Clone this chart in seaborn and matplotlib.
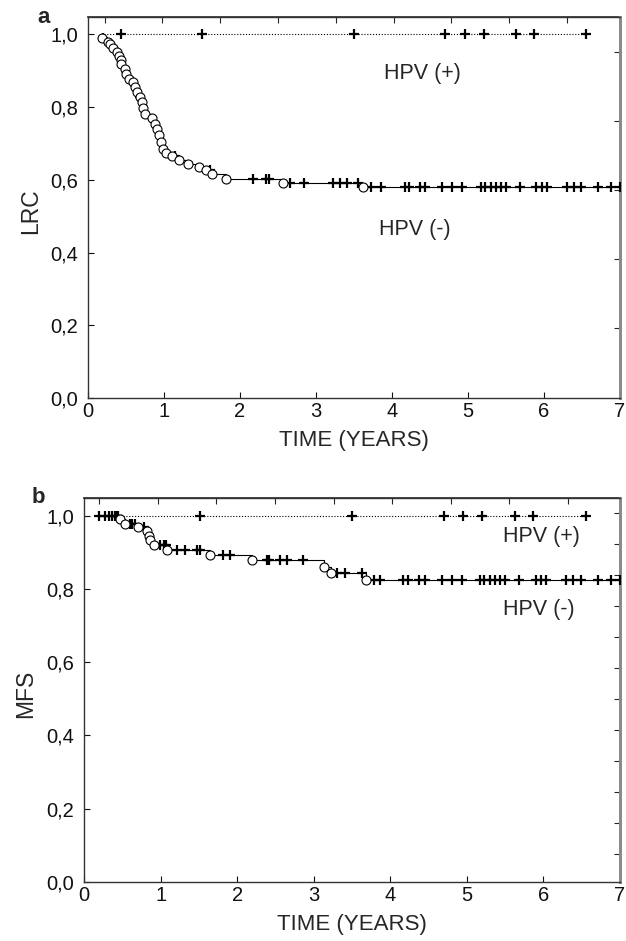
import numpy as np
import pandas as pd
import seaborn as sns
import matplotlib.pyplot as plt

sns.set_theme(style="ticks")
plt.rcParams['font.family'] = ['Liberation Sans', 'DejaVu Sans']

############################ DATA ############################
# panel a, LRC, HPV(-): events (open circles) and censored times (+)
lrc_ev_t = [0.18, 0.26, 0.29, 0.33, 0.38, 0.41, 0.43, 0.44, 0.49, 0.50, 0.54, 0.59,
            0.62, 0.65, 0.68, 0.71, 0.73, 0.75, 0.84, 0.88, 0.91, 0.94, 0.96, 0.99,
            1.03, 1.10, 1.20, 1.31, 1.46, 1.55, 1.63, 1.82, 2.57, 3.62]
lrc_ev_s = [0.990, 0.979, 0.973, 0.963, 0.951, 0.940, 0.929, 0.918, 0.906, 0.892,
            0.878, 0.869, 0.855, 0.842, 0.828, 0.814, 0.799, 0.780, 0.770, 0.755,
            0.741, 0.723, 0.704, 0.686, 0.674, 0.665, 0.656, 0.645, 0.636, 0.626,
            0.615, 0.603, 0.592, 0.580]
lrc_cens_t = [0.20, 0.68, 1.14, 1.60, 2.17, 2.34, 2.38, 2.66, 2.84, 3.22, 3.31, 3.41,
              3.55, 3.72, 3.85, 4.17, 4.23, 4.37, 4.43, 4.66, 4.79, 4.92, 5.17, 5.23,
              5.30, 5.37, 5.43, 5.50, 5.68, 5.90, 5.97, 6.04, 6.30, 6.39, 6.49, 6.71,
              6.88, 7.00]
lrc_pos_cens_t = [0.43, 1.50, 3.50, 4.70, 4.96, 5.21, 5.63, 5.87, 6.55]

# panel b, MFS, HPV(-)
mfs_ev_t = [0.47, 0.535, 0.71, 0.82, 0.85, 0.86, 0.92, 1.09, 1.64, 2.19, 3.14, 3.23, 3.68]
mfs_ev_s = [0.990, 0.978, 0.969, 0.957, 0.945, 0.934, 0.921, 0.907, 0.892, 0.878,
            0.860, 0.842, 0.825]
mfs_cens_t = [0.20, 0.28, 0.32, 0.37, 0.41, 0.45, 0.60, 0.63, 0.66, 0.78, 0.99, 1.04,
              1.07, 1.21, 1.32, 1.47, 1.51, 1.82, 1.91, 2.39, 2.42, 2.56, 2.65, 2.86,
              3.30, 3.41, 3.63, 3.79, 3.87, 4.16, 4.23, 4.38, 4.45, 4.67, 4.80, 4.94,
              5.17, 5.23, 5.30, 5.37, 5.43, 5.50, 5.68, 5.90, 5.97, 6.04, 6.30, 6.39,
              6.49, 6.71, 6.88, 7.00]
mfs_pos_cens_t = [0.43, 1.51, 3.50, 4.70, 4.95, 5.20, 5.63, 5.87, 6.56]

y_ticks = [0.0, 0.2, 0.4, 0.6, 0.8, 1.0]
y_labels = ["0,0", "0,2", "0,4", "0,6", "0,8", "1,0"]
x_ticks = [0, 1, 2, 3, 4, 5, 6, 7]


def km_frame(start, ev_t, ev_s, end):
    return pd.DataFrame({"time": [start] + ev_t + [end],
                         "surv": [1.0] + ev_s + [ev_s[-1]]})


def level_at(times, ev_t, ev_s):
    idx = np.searchsorted(ev_t, times, side="right")
    lev = np.r_[1.0, ev_s]
    return lev[idx]


def draw_panel(ax, ev_t, ev_s, cens_t, pos_cens_t, start, ylabel, letter,
               top_ticks, right_ticks, pos_lab, neg_lab, letter_x, ylab_x):
    # HPV(+) : flat dotted line with censor marks
    pos = pd.DataFrame({"time": [start, pos_cens_t[-1]], "surv": [1.0, 1.0]})
    sns.lineplot(data=pos, x="time", y="surv", ax=ax, color="black", lw=0.8,
                 linestyle=(0, (1, 1.6)), estimator=None)
    sns.scatterplot(x=pos_cens_t, y=[1.0] * len(pos_cens_t), ax=ax, marker="+",
                    s=45, linewidth=1.6, color="black", zorder=4)
    # HPV(-) : step curve
    km = km_frame(start, ev_t, ev_s, 7.0)
    sns.lineplot(data=km, x="time", y="surv", ax=ax, color="black", lw=0.8,
                 drawstyle="steps-post", estimator=None, sort=False)
    sns.scatterplot(x=cens_t, y=level_at(cens_t, ev_t, ev_s), ax=ax, marker="+",
                    s=45, linewidth=1.6, color="black", zorder=4)
    sns.scatterplot(x=ev_t, y=ev_s, ax=ax, marker="o", s=42, facecolor="white",
                    edgecolor="black", linewidth=0.8, zorder=5)

    ax.set_xlim(0, 7)
    ax.set_ylim(0, 1.048)
    ax.set_xticks(x_ticks)
    ax.set_yticks(y_ticks)
    ax.set_yticklabels(y_labels)
    ax.tick_params(direction="in", length=4, width=0.8, labelsize=14.5,
                   colors="#111111")
    ax.tick_params(axis="y", pad=7)
    ax.tick_params(axis="x", pad=3)
    for s in ["left", "bottom", "top"]:
        ax.spines[s].set_color("#333333")
        ax.spines[s].set_linewidth(1.0)
    ax.spines["right"].set_color("#8a8a8a")
    ax.spines["right"].set_linewidth(2.0)

    sx = ax.secondary_xaxis("top")
    sx.set_xticks(top_ticks)
    sx.tick_params(direction="in", length=4, width=0.8, labeltop=False)
    sx.spines["top"].set_color("#333333")
    sy = ax.secondary_yaxis("right")
    sy.set_yticks(right_ticks)
    sy.tick_params(direction="in", length=4, width=0.8, labelright=False)
    sy.spines["right"].set_color("#8a8a8a")
    sy.spines["right"].set_linewidth(2.0)

    ax.set_xlabel("TIME (YEARS)", fontsize=16)
    ax.set_ylabel(ylabel, fontsize=16.5)
    ax.xaxis.set_label_coords(0.5, -0.083)
    ax.yaxis.set_label_coords(ylab_x, 0.49)
    ax.text(pos_lab[0], pos_lab[1], "HPV (+)", fontsize=15.5, va="center")
    ax.text(neg_lab[0], neg_lab[1], "HPV (-)", fontsize=15.5, va="center")
    ax.text(letter_x, 1.0, letter, transform=ax.transAxes, fontsize=16,
            fontweight="bold", va="center", ha="center")


fig = plt.figure(figsize=(6.26, 9.41), dpi=100)
ax_a = fig.add_axes([0.1406, 0.577, 0.8498, 0.4049])
ax_b = fig.add_axes([0.1342, 0.0627, 0.8562, 0.4081])

draw_panel(ax_a, lrc_ev_t, lrc_ev_s, lrc_cens_t, lrc_pos_cens_t, 0.17, "LRC", "a",
           np.arange(0.22, 7.0, 0.76), np.arange(0.192, 1.0, 0.19),
           (3.9, 0.894), (3.83, 0.464), -0.083, -0.086)
draw_panel(ax_b, mfs_ev_t, mfs_ev_s, mfs_cens_t, mfs_pos_cens_t, 0.17, "MFS", "b",
           np.arange(0.20, 7.0, 0.765), np.arange(1.007, 0.05, -0.0845),
           (5.47, 0.943), (5.47, 0.743), -0.086, -0.088)

fig.savefig("out.png", dpi=100)
